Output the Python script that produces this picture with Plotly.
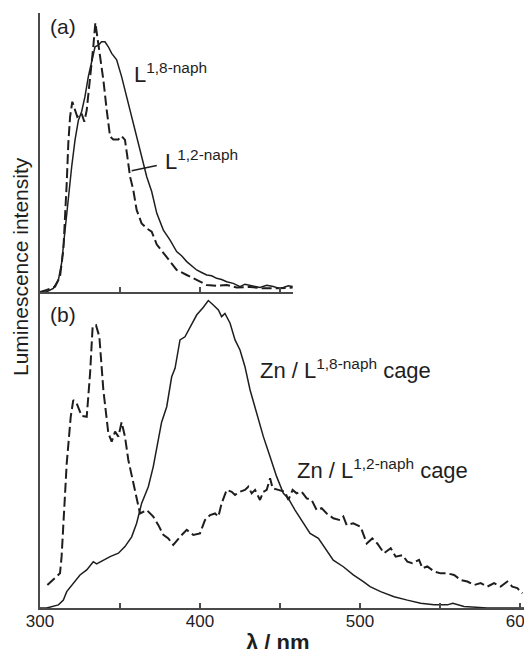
import plotly.graph_objects as go

# ---------------- data ----------------
# panel (a): free ligands
wl_a18 = [300, 304, 308.3, 311.5, 313.5, 315.6, 317.7, 319.8, 321.9, 324, 326, 328.1,
          330.2, 332.3, 334.4, 336.5, 338.5, 340.6, 342.7, 344.8, 347.9, 351, 354.2,
          357.3, 360.4, 363.5, 366.7, 369.8, 373, 377.1, 381.3, 385.4, 388.5, 391.7,
          394.8, 397.9, 401, 404.2, 407.3, 410.4, 413.5, 416.7, 420.8, 425, 428.1,
          431.3, 434.4, 437.5, 441.7, 445.8, 449, 452.1, 455.2, 458]
int_a18 = [0.0, 0.0, 0.013, 0.043, 0.103, 0.222, 0.342, 0.449, 0.545, 0.616, 0.646, 0.70,
           0.772, 0.832, 0.879, 0.885, 0.897, 0.897, 0.879, 0.855, 0.832, 0.772, 0.70,
           0.628, 0.557, 0.485, 0.413, 0.36, 0.282, 0.222, 0.186, 0.145, 0.13, 0.109,
           0.095, 0.079, 0.07, 0.061, 0.058, 0.049, 0.045, 0.037, 0.031, 0.019, 0.028,
           0.025, 0.02, 0.016, 0.024, 0.02, 0.014, 0.016, 0.022, 0.02]

wl_a12 = [300, 304.2, 309.4, 312.5, 314.6, 315.6, 316.7, 317.7, 318.8, 320.2, 321.9, 323.3,
          326, 327.7, 329.2, 331.3, 333.3, 334.6, 335.8, 337.5, 339.6, 341.7, 343.8,
          345.8, 349, 351, 353.1, 354.6, 356.3, 358.3, 360.4, 363.5, 366.7, 369.8, 373,
          379.2, 385.4, 391.7, 397.9, 404.2, 410.4, 416.7, 422.9, 431.3, 439.6, 447.9, 458]
int_a12 = [0.0, 0.007, 0.019, 0.055, 0.151, 0.246, 0.39, 0.533, 0.628, 0.682, 0.652, 0.628,
           0.64, 0.61, 0.652, 0.76, 0.879, 0.965, 0.915, 0.855, 0.76, 0.652, 0.557,
           0.547, 0.547, 0.559, 0.545, 0.485, 0.413, 0.366, 0.294, 0.246, 0.228, 0.216,
           0.17, 0.125, 0.079, 0.061, 0.043, 0.025, 0.022, 0.025, 0.016, 0.018, 0.013,
           0.013, 0.016]

# panel (b): Zn cages
wl_b18 = [300, 304.2, 311.5, 314.6, 316.7, 320.8, 325, 329.2, 333.3, 335.4, 339.6, 343.8,
          349, 353.1, 357.3, 360.4, 363.5, 367.7, 370.8, 374, 376, 379.2, 382.3, 384.4,
          387.5, 390.6, 393.8, 397.9, 402.1, 405.2, 408.3, 411.5, 413.5, 415.6, 418.8,
          421.9, 425, 428.1, 431.3, 435.4, 439.6, 443.8, 447.9, 452.1, 455.2, 459.4,
          464.6, 468.8, 474, 478.1, 483.3, 489.6, 495.8, 502.1, 506.3, 512.9, 521.3,
          529.6, 537.9, 546.3, 554.6, 558, 565, 579.6, 602.5]
int_b18 = [0, 0, 0.01, 0.025, 0.052, 0.078, 0.105, 0.121, 0.147, 0.14, 0.152, 0.163,
           0.174, 0.195, 0.226, 0.269, 0.332, 0.385, 0.449, 0.544, 0.59, 0.639, 0.734,
           0.761, 0.851, 0.861, 0.893, 0.93, 0.955, 0.976, 0.962, 0.946, 0.925, 0.935,
           0.904, 0.851, 0.819, 0.766, 0.692, 0.618, 0.544, 0.48, 0.417, 0.364, 0.348,
           0.311, 0.269, 0.237, 0.221, 0.19, 0.152, 0.131, 0.105, 0.084, 0.068, 0.052,
           0.036, 0.025, 0.015, 0.01, 0.01, 0.015, 0.005, 0, 0]

wl_b12 = [304.6, 308.3, 310.4, 312.5, 313.5, 316.7, 319.2, 320.8, 322.9, 326, 329.2, 331.3,
          332.9, 335, 337.1, 339.6, 342.7, 344.8, 346.9, 349, 351, 353.1, 355.2, 358.3,
          360.4, 362.5, 366.7, 370.8, 374, 377.1, 380.2, 383.3, 387.5, 391.7, 395.8, 400,
          403.1, 406.3, 409.4, 411.5, 413.5, 416.7, 419.8, 421.9, 425, 428.1, 430.2,
          432.3, 434.4, 437.5, 439.6, 441.7, 443.8, 445.4, 449, 453.1, 455.2, 457.9,
          460.4, 463.5, 466.7, 469.8, 472.9, 476, 479.2, 483.3, 487.5, 489.6, 491.7,
          495.8, 500.4, 504.2, 507.7, 510.8, 515, 519.2, 522.3, 526.5, 529.6, 532.7,
          536.9, 539, 542.1, 546.3, 550.4, 554.6, 558.8, 562.9, 567.1, 571.3, 575.4,
          579.6, 583.8, 587.9, 592.1, 595.2, 598.3, 601.5]
int_b12 = [0.073, 0.089, 0.099, 0.11, 0.163, 0.459, 0.607, 0.66, 0.65, 0.61, 0.607, 0.745,
           0.893, 0.898, 0.861, 0.692, 0.555, 0.528, 0.56, 0.544, 0.59, 0.544, 0.47, 0.396,
           0.353, 0.3, 0.311, 0.29, 0.263, 0.232, 0.221, 0.2, 0.226, 0.248, 0.232, 0.237,
           0.279, 0.295, 0.3, 0.29, 0.332, 0.375, 0.369, 0.359, 0.369, 0.375, 0.385,
           0.364, 0.375, 0.343, 0.369, 0.375, 0.412, 0.38, 0.375, 0.369, 0.343, 0.375,
           0.364, 0.369, 0.348, 0.343, 0.311, 0.317, 0.3, 0.285, 0.279, 0.29, 0.263,
           0.269, 0.258, 0.205, 0.221, 0.205, 0.174, 0.19, 0.163, 0.168, 0.147, 0.142,
           0.153, 0.126, 0.132, 0.116, 0.11, 0.11, 0.105, 0.089, 0.084, 0.073, 0.079,
           0.068, 0.079, 0.068, 0.084, 0.068, 0.063, 0.047]

x_tickvals = [300, 400, 500, 600]
x_ticktext = ["300", "400", "500", "600"]

# ---------------- figure ----------------
INK = "#1e1e1e"
AXC = "#4a4a4a"
FONT = "Liberation Sans, Arial, sans-serif"
DASH = "10px,4px"

fig = go.Figure()
fig.add_trace(go.Scatter(x=wl_a18, y=int_a18, mode="lines", xaxis="x2", yaxis="y2",
                         line=dict(color=INK, width=1.5), showlegend=False))
fig.add_trace(go.Scatter(x=wl_a12, y=int_a12, mode="lines", xaxis="x2", yaxis="y2",
                         line=dict(color=INK, width=2, dash=DASH), showlegend=False))
fig.add_trace(go.Scatter(x=wl_b18, y=int_b18, mode="lines", xaxis="x", yaxis="y",
                         line=dict(color=INK, width=1.5), showlegend=False))
fig.add_trace(go.Scatter(x=wl_b12, y=int_b12, mode="lines", xaxis="x", yaxis="y",
                         line=dict(color=INK, width=2, dash=DASH), showlegend=False))

W, H = 524, 649
ml, mr, mt, mb = 40, 0, 13, 41
pw, ph = W - ml - mr, H - mt - mb
px_per_nm = 1.6
x_hi = 300 + pw / px_per_nm
top_xmax = 458
bottom_top = (608 - 293) / ph
top_bottom = (608 - 292) / ph

axis_common = dict(showline=True, linecolor=AXC, linewidth=2, showgrid=False,
                   zeroline=False, mirror=False, automargin=False)

fig.update_layout(
    width=W, height=H, margin=dict(l=ml, r=mr, t=mt, b=mb, autoexpand=False),
    paper_bgcolor="white", plot_bgcolor="white",
    font=dict(family=FONT, color=INK, size=17),
    xaxis=dict(domain=[0, 1], range=[300, x_hi], anchor="y",
               tickmode="array", tickvals=x_tickvals, ticktext=x_ticktext,
               ticks="inside", ticklen=5, tickwidth=1.5, tickcolor=AXC,
               tickfont=dict(size=17, color=INK), ticklabeloverflow="allow",
               ticklabelstandoff=-3,
               minor=dict(dtick=50, tick0=300, ticks="inside", ticklen=5,
                          tickwidth=1.5, tickcolor=AXC),
               **axis_common),
    yaxis=dict(domain=[0, bottom_top], range=[0, 1], anchor="x",
               showticklabels=False, ticks="", **axis_common),
    xaxis2=dict(domain=[0, (top_xmax - 300) * px_per_nm / pw], range=[300, top_xmax],
                anchor="y2", showticklabels=False, dtick=50, tick0=300,
                ticks="inside", ticklen=5, tickwidth=1.5, tickcolor=AXC,
                **axis_common),
    yaxis2=dict(domain=[top_bottom, 1], range=[0, 1], anchor="x2",
                showticklabels=False, ticks="", **axis_common),
)

annotations = [
    dict(text="(a)", x=305, y=0.952, xref="x2", yref="y2", xanchor="left",
         yanchor="middle", showarrow=False, font=dict(size=21)),
    dict(text="(b)", x=305, y=0.933, xref="x", yref="y", xanchor="left",
         yanchor="middle", showarrow=False, font=dict(size=21)),
    dict(text="L<sup>1,8-naph</sup>", x=357.5, y=0.786, xref="x2", yref="y2",
         xanchor="left", yanchor="middle", showarrow=False, font=dict(size=22)),
    dict(text="L<sup>1,2-naph</sup>", x=376.9, y=0.472, xref="x2", yref="y2",
         xanchor="left", yanchor="middle", showarrow=False, font=dict(size=22)),
    dict(text="Zn / L<sup>1,8-naph</sup> cage", x=436.3, y=0.758, xref="x",
         yref="y", xanchor="left", yanchor="middle", showarrow=False, font=dict(size=22)),
    dict(text="Zn / L<sup>1,2-naph</sup> cage", x=459.4, y=0.44, xref="x",
         yref="y", xanchor="left", yanchor="middle", showarrow=False, font=dict(size=22)),
    dict(text="Luminescence intensity", x=(20 - ml) / pw, y=(608 - 267) / ph,
         xref="paper", yref="paper", xanchor="center", yanchor="middle",
         textangle=-90, showarrow=False, font=dict(size=21)),
    dict(text="<b>λ / nm</b>", x=(278 - ml) / pw, y=(608 - 628) / ph, xref="paper",
         yref="paper", xanchor="center", yanchor="top", showarrow=False,
         font=dict(size=22)),
]
fig.update_layout(annotations=annotations)

fig.add_shape(type="line", xref="x2", yref="y2", x0=357.3, y0=0.435, x1=373.0, y1=0.453,
              line=dict(color=INK, width=1.5))

fig.write_html("out.html")
